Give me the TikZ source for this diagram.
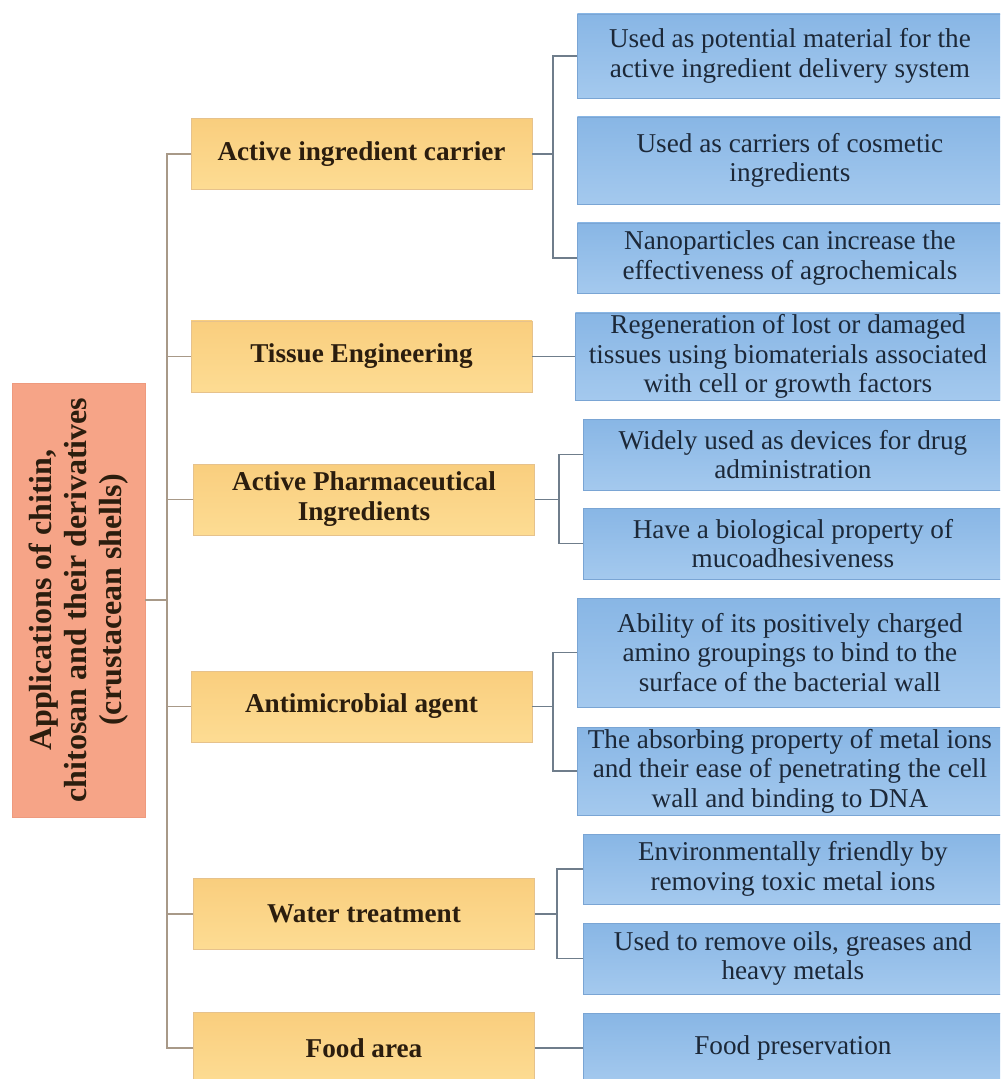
\documentclass[tikz,border=0pt]{standalone}
\usepackage{fontspec}
\setmainfont{Liberation Serif}

\definecolor{orgtop}{HTML}{F9CE7E}
\definecolor{orgbot}{HTML}{FDDC93}
\definecolor{orgedge}{HTML}{E6C28C}
\definecolor{bluetop}{HTML}{88B6E5}
\definecolor{bluebot}{HTML}{A4C9EE}
\definecolor{blueedge}{HTML}{7AA5D4}
\definecolor{salmonfill}{HTML}{F6A487}
\definecolor{salmonedge}{HTML}{EE9A7E}
\definecolor{trunkline}{HTML}{A89988}
\definecolor{brline}{HTML}{6F7D8B}
\definecolor{navytext}{HTML}{1C2838}
\definecolor{browntext}{HTML}{2B1D0E}

\tikzset{
  rootbox/.style={rectangle, draw=salmonedge, fill=salmonfill, rotate=90,
    minimum width=217pt, minimum height=66.5pt, inner sep=0pt, align=center,
    text=browntext, font=\fontsize{16}{17.5}\selectfont\bfseries},
  catbox/.style={rectangle, draw=orgedge, top color=orgtop, bottom color=orgbot,
    minimum width=170.5pt, minimum height=35.5pt, inner sep=0pt, align=center,
    text=browntext, font=\fontsize{13.6}{15}\selectfont\bfseries},
  infobox/.style={rectangle, draw=blueedge, top color=bluetop, bottom color=bluebot,
    anchor=west, inner sep=0pt, align=center,
    text=navytext, font=\fontsize{13.6}{14.8}\selectfont},
  wide/.style={minimum width=212.5pt},
  narrow/.style={minimum width=209.5pt},
  trunk/.style={draw=trunkline, line width=0.75pt},
  branch/.style={draw=brline, line width=0.75pt}
}

\begin{document}
\begin{tikzpicture}[x=0.5pt,y=-0.5pt]
\useasboundingbox (0,0) rectangle (1000,1079);
\clip (0,0) rectangle (1000,1079);

% root of the tree
\node[rootbox] (root) at (78.5,600)
  {Applications of chitin,\\chitosan and their derivatives\\(crustacean shells)};

% application areas
\node[catbox] (o1) at (361.5,154)    {Active ingredient carrier};
\node[catbox] (o2) at (361.5,356.5)  {Tissue Engineering};
\node[catbox] (o3) at (364,499.5)    {Active Pharmaceutical\\Ingredients};
\node[catbox] (o4) at (361.5,706.5)  {Antimicrobial agent};
\node[catbox] (o5) at (364,914)      {Water treatment};
\node[catbox] (o6) at (364,1048)     {Food area};

% descriptions
\node[infobox, wide, minimum height=42pt]   (b1)  at (577,56)    {Used as potential material for the\\active ingredient delivery system};
\node[infobox, wide, minimum height=43.5pt] (b2)  at (577,160.5) {Used as carriers of cosmetic\\ingredients};
\node[infobox, wide, minimum height=35pt]   (b3)  at (577,258)   {Nanoparticles can increase the\\effectiveness of agrochemicals};
\node[infobox, wide, minimum height=43.5pt] (b4)  at (575,356.5) {Regeneration of lost or damaged\\tissues using biomaterials associated\\with cell or growth factors};
\node[infobox, narrow, minimum height=35.5pt] (b5) at (583,454.5) {Widely used as devices for drug\\administration};
\node[infobox, narrow, minimum height=35.5pt] (b6) at (583,543.5) {Have a biological property of\\mucoadhesiveness};
\node[infobox, wide, minimum height=54.5pt] (b7)  at (577,652.5) {Ability of its positively charged\\amino groupings to bind to the\\surface of the bacterial wall};
\node[infobox, wide, minimum height=44pt]   (b8)  at (577,771)   {The absorbing property of metal ions\\and their ease of penetrating the cell\\wall and binding to DNA};
\node[infobox, narrow, minimum height=35pt] (b9)  at (583,869)   {Environmentally friendly by\\removing toxic metal ions};
\node[infobox, narrow, minimum height=35.5pt] (b10) at (583,958.5) {Used to remove oils, greases and\\heavy metals};
\node[infobox, narrow, minimum height=35pt] (b11) at (583,1048)  {Food preservation};

% trunk joining the root to the areas
\coordinate (t) at (167,600);
\draw[trunk] (root.south) -- (t);
\foreach \o in {o1,o2,o3,o4,o5,o6}
  \draw[trunk] (\o.west) -| (t);

% brackets joining areas to descriptions
\coordinate (k1) at (553,154);
\draw[branch] (o1.east) -- (k1);
\draw[branch] (b1.west) -| (k1);
\draw[branch] (b3.west) -| (k1);

\draw[branch] (o2.east) -- (b4.west);

\coordinate (k3) at (559,499.5);
\draw[branch] (o3.east) -- (k3);
\draw[branch] (b5.west) -| (k3);
\draw[branch] (b6.west) -| (k3);

\coordinate (k4) at (553,706.5);
\draw[branch] (o4.east) -- (k4);
\draw[branch] (b7.west) -| (k4);
\draw[branch] (b8.west) -| (k4);

\coordinate (k5) at (557,914);
\draw[branch] (o5.east) -- (k5);
\draw[branch] (b9.west) -| (k5);
\draw[branch] (b10.west) -| (k5);

\draw[branch] (o6.east) -- (b11.west);
\end{tikzpicture}
\end{document}
